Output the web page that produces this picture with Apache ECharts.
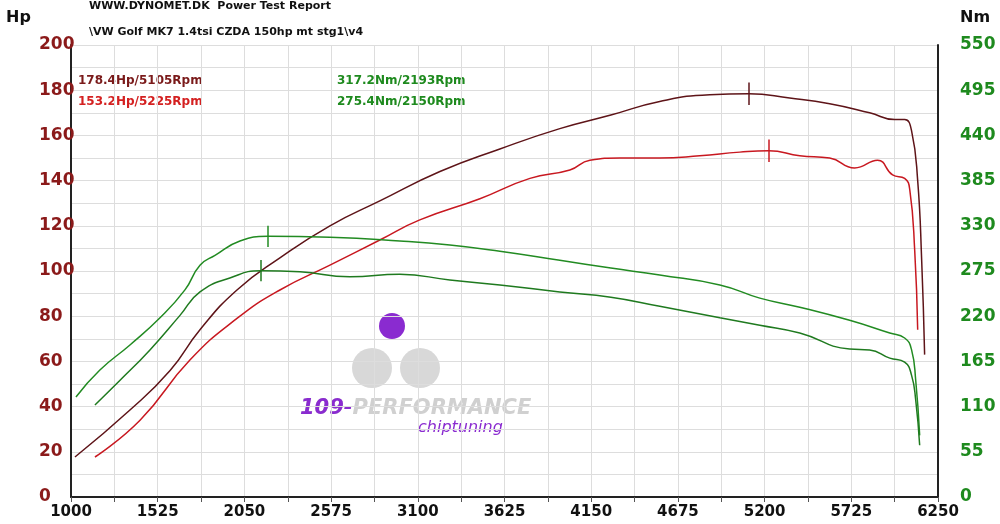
<!DOCTYPE html>
<html>
<head>
<meta charset="utf-8">
<script src="https://cdn.jsdelivr.net/npm/echarts@6/dist/echarts.min.js"></script>
<style>html,body{margin:0;padding:0;background:#fff}#chart{width:1000px;height:524px}</style>
</head>
<body>
<div id="chart"></div>
<script>
// rpm / value pairs read from the dyno sheet
var rpmPowerA = [1024,1357,1600,1781,2005,2265,2568,2870,3234,3597,3960,4269,4565,4868,5105,5352,5594,5836,5988,6048,6090,6127,6151,6169];
var powerA    = [17.7,38.5,56,74,91.6,105.8,120,131,144,154,163,169,175,178,178.4,176.5,174,170,167,167,162,140,105,63];
var rpmPowerB = [1145,1418,1720,2005,2265,2568,2870,3112,3476,3779,4021,4142,4323,4565,4807,5050,5225,5413,5594,5745,5884,5975,6048,6079,6109,6127];
var powerB    = [17.7,34,60.6,79,91.6,102.6,113.7,122.6,132,141,144.7,149,150,150,151,152.6,153.2,151,150,145.6,149,142.5,141,136,109,74];
var rpmTorqueA = [1030,1175,1357,1539,1690,1781,1872,2023,2193,2568,2991,3294,3597,3960,4269,4565,4929,5171,5413,5715,5958,6048,6090,6115,6139];
var torqueA    = [121.7,154.5,185,218,252,282,294,311.5,317.2,316,311.5,306.6,299,288,278.6,270,258,242,231,215,199.5,193.5,179,142,75];
var rpmTorqueB = [1145,1297,1478,1660,1781,1962,2150,2386,2689,2991,3294,3597,3960,4269,4565,4929,5171,5413,5715,5836,5958,6048,6090,6115,6139];
var torqueB    = [112,142,179,221,249.5,266.5,275.4,274,268,271,264,258,249.5,243,232,218,209,199.5,180,179,169,164,148,118,63];

function pairs(xs, ys) {
    return xs.map(function (x, i) { return [x, ys[i]]; });
}
function peakTick(x, y, h) {
    return { data: [[{ coord: [x, y - h] }, { coord: [x, y + h] }]], symbol: ['none', 'none'],
             silent: true, label: { show: false } };
}

var chart = echarts.init(document.getElementById('chart'));
var font = 'Verdana, "DejaVu Sans", sans-serif';

function line(name, data, color, yIdx, peak, h) {
    var ml = peakTick(peak[0], peak[1], h);
    ml.lineStyle = { color: color, width: 1.5, type: 'solid' };
    return { name: name, type: 'line', data: data, yAxisIndex: yIdx, smooth: true, showSymbol: false,
             lineStyle: { color: color, width: 1.5 }, markLine: ml, z: 3 };
}

chart.setOption({
    animation: false,
    grid: { left: 71, right: 62, top: 45, bottom: 27 },
    xAxis: {
        type: 'value', min: 1000, max: 6250, interval: 262.5,
        axisLine: { lineStyle: { color: '#222', width: 2 } },
        axisTick: { show: true, length: 5, lineStyle: { color: '#555' } },
        axisLabel: {
            color: '#111', fontFamily: font, fontSize: 15, fontWeight: 'bold', margin: 8,
            formatter: function (v) { return (v - 1000) % 525 === 0 ? v : ''; }
        },
        splitLine: { lineStyle: { color: '#ddd' } }
    },
    yAxis: [{
        type: 'value', min: 0, max: 200, interval: 10,
        axisLine: { show: true, lineStyle: { color: '#222', width: 2 } },
        axisTick: { show: false },
        axisLabel: {
            color: '#8b1a1a', fontFamily: font, fontSize: 17, fontWeight: 'bold', margin: 32, align: 'left',
            formatter: function (v) { return v % 20 === 0 ? v : ''; }
        },
        splitLine: { lineStyle: { color: '#ddd' } }
    }, {
        type: 'value', min: 0, max: 550, interval: 27.5,
        axisLine: { show: true, lineStyle: { color: '#222', width: 2 } },
        axisTick: { show: false },
        axisLabel: {
            color: '#1e8a1e', fontFamily: font, fontSize: 17, fontWeight: 'bold', margin: 22,
            formatter: function (v) { return Math.round(v * 10) % 550 === 0 ? v : ''; }
        },
        splitLine: { show: false }
    }],
    graphic: [
        { type: 'text', left: 6, top: 10, style: { text: 'Hp', font: 'bold 16px ' + font, fill: '#111' } },
        { type: 'text', left: 960, top: 10, style: { text: 'Nm', font: 'bold 16px ' + font, fill: '#111' } },
        { type: 'text', left: 89, top: 1, style: { text: 'WWW.DYNOMET.DK  Power Test Report', font: 'bold 11px ' + font, fill: '#111' } },
        { type: 'text', left: 89, top: 27, style: { text: '\\VW Golf MK7 1.4tsi CZDA 150hp mt stg1\\v4', font: 'bold 11px ' + font, fill: '#111' } },
        { type: 'text', left: 78, top: 75, style: { text: '178.4Hp/5105Rpm', font: 'bold 12px ' + font, fill: '#7a1a1a' } },
        { type: 'text', left: 78, top: 96, style: { text: '153.2Hp/5225Rpm', font: 'bold 12px ' + font, fill: '#d42020' } },
        { type: 'text', left: 337, top: 75, style: { text: '317.2Nm/2193Rpm', font: 'bold 12px ' + font, fill: '#1e8a1e' } },
        { type: 'text', left: 337, top: 96, style: { text: '275.4Nm/2150Rpm', font: 'bold 12px ' + font, fill: '#1e8a1e' } },
        { type: 'circle', shape: { cx: 392, cy: 326, r: 13 }, style: { fill: '#8a2bd0' } },
        { type: 'circle', shape: { cx: 372, cy: 368, r: 20 }, style: { fill: '#d8d8d8' } },
        { type: 'circle', shape: { cx: 420, cy: 368, r: 20 }, style: { fill: '#d8d8d8' } },
        { type: 'text', left: 300, top: 398, style: { text: '109-PERFORMANCE', font: 'italic bold 21px ' + font, fill: '#d0d0d0' } },
        { type: 'text', left: 300, top: 398, style: { text: '109-', font: 'italic bold 21px ' + font, fill: '#8a2bd0' } },
        { type: 'text', left: 418, top: 420, style: { text: 'chiptuning', font: 'italic 16px ' + font, fill: '#8a2bd0' } }
    ],
    series: [
        line('Power A', pairs(rpmPowerA, powerA), '#5e1418', 0, [5105, 178.4], 5),
        line('Power B', pairs(rpmPowerB, powerB), '#c81820', 0, [5225, 153.2], 5),
        line('Torque A', pairs(rpmTorqueA, torqueA), '#228b22', 1, [2193, 317.2], 13),
        line('Torque B', pairs(rpmTorqueB, torqueB), '#1f7a1f', 1, [2150, 275.4], 13)
    ]
});
</script>
</body>
</html>
